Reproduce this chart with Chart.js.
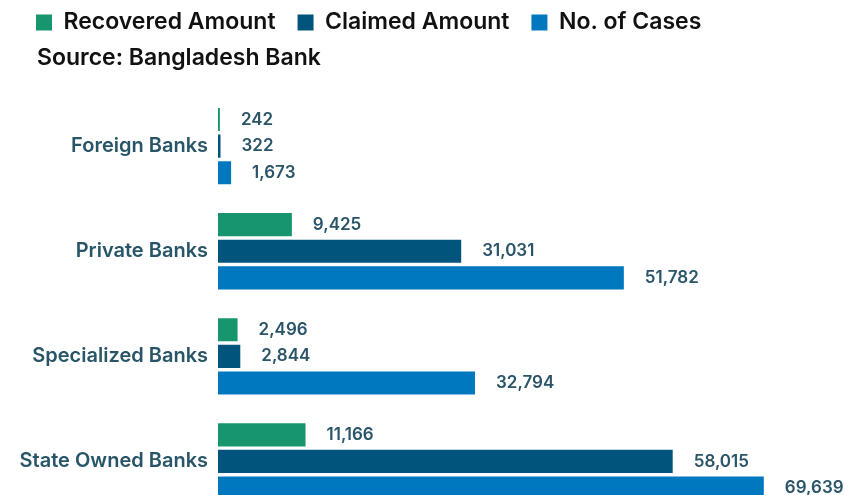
<!DOCTYPE html>
<html>
<head>
<meta charset="utf-8">
<script src="https://cdn.jsdelivr.net/npm/chart.js@4.4.1/dist/chart.umd.min.js"></script>
<style>
  html, body { margin: 0; padding: 0; background: #fff; overflow: hidden; }
</style>
</head>
<body>
<canvas id="myChart" width="845" height="536"></canvas>
<script>
const banks = ['Foreign Banks', 'Private Banks', 'Specialized Banks', 'State Owned Banks'];
const recovered = [242, 9425, 2496, 11166];
const claimed = [322, 31031, 2844, 58015];
const cases = [1673, 51782, 32794, 69639];

const FONT = 'Inter, "Noto Sans", sans-serif';

// values drawn at the end of each bar
const barValues = {
  id: 'barValues',
  afterDatasetsDraw(chart) {
    const ctx = chart.ctx;
    ctx.save();
    ctx.font = '600 17px ' + FONT;
    ctx.fillStyle = '#2a5468';
    ctx.textAlign = 'left';
    ctx.textBaseline = 'middle';
    chart.data.datasets.forEach((ds, i) => {
      chart.getDatasetMeta(i).data.forEach((bar, j) => {
        ctx.fillText(ds.data[j].toLocaleString('en-US'), bar.x + 21, bar.y);
      });
    });
    ctx.restore();
  }
};

const ctx = document.getElementById('myChart');

const myChart = new Chart(ctx, {
  type: 'bar',
  data: {
    labels: banks,
    datasets: [
      { label: 'Recovered Amount', data: recovered, backgroundColor: '#17956f' },
      { label: 'Claimed Amount', data: claimed, backgroundColor: '#01547b' },
      { label: 'No. of Cases', data: cases, backgroundColor: '#0078c0' }
    ]
  },
  options: {
    indexAxis: 'y',
    responsive: false,
    animation: false,
    categoryPercentage: 0.76,
    barPercentage: 0.87,
    layout: { padding: { top: -11, left: 14, right: 0, bottom: 6 } },
    scales: {
      x: { display: false, min: 0, max: 80000 },
      y: {
        grid: { display: false, drawTicks: false },
        border: { display: false },
        ticks: {
          padding: 10,
          color: '#285567',
          font: { family: FONT, size: 20, weight: '600' }
        },
        afterFit(scale) { scale.width = 204; }
      }
    },
    plugins: {
      legend: {
        position: 'top',
        align: 'start',
        weight: 3000,
        labels: {
          boxWidth: 16,
          boxHeight: 16,
          padding: 22,
          color: '#111',
          font: { family: FONT, size: 23, weight: '600' }
        }
      },
      subtitle: {
        display: true,
        text: '\u2002\u2002Source: Bangladesh Bank',
        align: 'start',
        color: '#111',
        font: { family: FONT, size: 23, weight: '600' },
        padding: { top: 0, bottom: 22 }
      },
      tooltip: { enabled: false }
    }
  },
  plugins: [barValues]
});
</script>
</body>
</html>
